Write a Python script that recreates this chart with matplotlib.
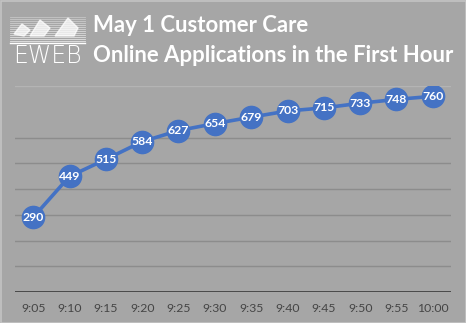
import matplotlib.pyplot as plt
from matplotlib.patches import Polygon, Rectangle

times = ["9:05", "9:10", "9:15", "9:20", "9:25", "9:30",
         "9:35", "9:40", "9:45", "9:50", "9:55", "10:00"]
applications = [290, 449, 515, 584, 627, 654, 679, 703, 715, 733, 748, 760]
grid_levels = [100, 200, 300, 400, 500, 600, 800]

BG = "#a6a6a6"
BLUE = "#4472c4"

fig = plt.figure(figsize=(4.66, 3.23), dpi=100, facecolor=BG)
ax = fig.add_axes([15 / 466, 1 - 292 / 323, 436 / 466, 206 / 323])
ax.set_facecolor(BG)

x = list(range(len(times)))
for lvl in grid_levels:
    ax.axhline(lvl, color="#8c8c8c" if lvl < 800 else "#b4b4b4",
               linewidth=1.0, zorder=1)
ax.axhline(0, color="#404040", linewidth=2.0, zorder=2)

ax.plot(x, applications, color=BLUE, linewidth=2.6, marker="o",
        markersize=16, markerfacecolor=BLUE, markeredgecolor=BLUE, zorder=3)
for xi, v in zip(x, applications):
    ax.text(xi, v, str(v), ha="center", va="center", color="white",
            fontsize=8.8, fontweight="bold", family="Lato", zorder=4)

ax.set_xlim(-0.5, len(times) - 0.5)
ax.set_ylim(0, 800)
ax.set_yticks([])
ax.set_xticks(x)
ax.set_xticklabels(times, family="Lato", fontsize=8.8, color="#454545")
ax.tick_params(axis="x", length=0, pad=8)
for s in ax.spines.values():
    s.set_visible(False)

# header: logo block and two-line title
fig.text(93 / 466, 1 - 26 / 323, "May 1 Customer Care", family="Lato",
         fontweight="bold", fontsize=15.9, color="white", va="center")
fig.text(93 / 466, 1 - 55 / 323, "Online Applications in the First Hour",
         family="Lato", fontweight="bold", fontsize=15.9, color="white",
         va="center")

logo = fig.add_axes([0, 0, 1, 1], facecolor="none")
logo.set_xlim(0, 466)
logo.set_ylim(323, 0)
logo.axis("off")
for i, y in enumerate(range(17, 42, 2)):
    logo.plot([10, 85], [y, y], color="white", linewidth=0.6,
              alpha=0.35 + 0.03 * i)
logo.add_patch(Polygon([[14, 34], [22, 24], [30, 30], [24, 36]],
                       closed=True, color="white", alpha=0.75))
logo.add_patch(Polygon([[30, 36], [40, 20], [50, 28], [44, 36]],
                       closed=True, color="white", alpha=0.75))
logo.add_patch(Polygon([[55, 36], [68, 18], [78, 28], [74, 36]],
                       closed=True, color="white", alpha=0.75))
logo.plot([10, 85], [43, 43], color="white", linewidth=1.0)
logo.text(47, 56, "EWEB", ha="center", va="center", color="white",
          fontsize=17, family="DejaVu Sans", fontweight="light")

logo.add_patch(Rectangle((0.5, 0.5), 465, 322, fill=False,
                         edgecolor="#c4c4c4", linewidth=1.2))

fig.savefig("out.png", dpi=100, facecolor=BG)
